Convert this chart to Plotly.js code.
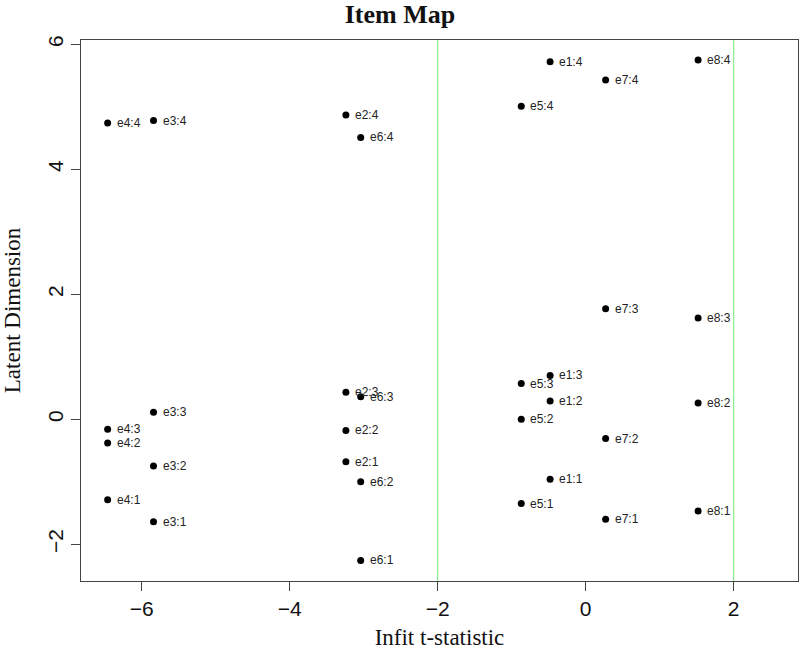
<!DOCTYPE html>
<html>
<head>
<meta charset="utf-8">
<script src="https://cdn.plot.ly/plotly-3.0.1.min.js"></script>
<style>
  body { margin: 0; background: #fff; }
  #plot { width: 800px; height: 650px; }
</style>
</head>
<body>
<div id="plot"></div>
<script>
// item thresholds (label = item:category)
var pointLabels = [
  "e1:1", "e1:2", "e1:3", "e1:4",
  "e2:1", "e2:2", "e2:3", "e2:4",
  "e3:1", "e3:2", "e3:3", "e3:4",
  "e4:1", "e4:2", "e4:3", "e4:4",
  "e5:1", "e5:2", "e5:3", "e5:4",
  "e6:1", "e6:2", "e6:3", "e6:4",
  "e7:1", "e7:2", "e7:3", "e7:4",
  "e8:1", "e8:2", "e8:3", "e8:4"
];
// infit t-statistic (same for every threshold of an item)
var infitT = [
  -0.48, -0.48, -0.48, -0.48,
  -3.24, -3.24, -3.24, -3.24,
  -5.84, -5.84, -5.84, -5.84,
  -6.46, -6.46, -6.46, -6.46,
  -0.87, -0.87, -0.87, -0.87,
  -3.04, -3.04, -3.04, -3.04,
  0.27, 0.27, 0.27, 0.27,
  1.52, 1.52, 1.52, 1.52
];
// latent dimension location
var latent = [
  -0.96, 0.29, 0.70, 5.72,
  -0.68, -0.18, 0.43, 4.87,
  -1.64, -0.75, 0.11, 4.78,
  -1.29, -0.38, -0.16, 4.74,
  -1.35, 0.00, 0.57, 5.01,
  -2.26, -1.00, 0.36, 4.51,
  -1.60, -0.31, 1.77, 5.43,
  -1.47, 0.26, 1.62, 5.75
];
var cutoffs = [-2, 2];

var trace = {
  x: infitT,
  y: latent,
  text: pointLabels,
  type: "scatter",
  mode: "markers",
  marker: { color: "black", size: 7 },
  hoverinfo: "x+y+text"
};

// labels to the right of each point, like text(pos = 4)
var annots = [];
for (var i = 0; i < pointLabels.length; i++) {
  annots.push({
    x: infitT[i], y: latent[i],
    xref: "x", yref: "y",
    text: pointLabels[i],
    showarrow: false,
    xanchor: "left", yanchor: "middle",
    xshift: 7, yshift: 0,
    font: { family: "Liberation Sans, Arial, sans-serif", size: 12, color: "#222" }
  });
}

var shapes = [];
for (var j = 0; j < cutoffs.length; j++) {
  shapes.push({
    type: "line",
    xref: "x", yref: "paper",
    x0: cutoffs[j], x1: cutoffs[j], y0: 0, y1: 1,
    line: { color: "#90ee90", width: 1.3 },
    layer: "below"
  });
}

var layout = {
  width: 800,
  height: 650,
  margin: { l: 81, r: 2, t: 40, b: 69 },
  paper_bgcolor: "white",
  plot_bgcolor: "white",
  showlegend: false,
  title: {
    text: "<b>Item Map</b>",
    font: { family: "Liberation Serif, Times New Roman, serif", size: 26, color: "#111" },
    x: 0.5, xanchor: "center",
    y: 0.979, yanchor: "middle"
  },
  xaxis: {
    range: [-6.82, 2.87],
    tickvals: [-6, -4, -2, 0, 2],
    ticktext: ["\u22126", "\u22124", "\u22122", "0", "2"],
    ticks: "outside", ticklen: 9, tickcolor: "#444", tickwidth: 1,
    showgrid: false, zeroline: false,
    showline: true, mirror: true, linecolor: "#444", linewidth: 1,
    tickfont: { family: "Liberation Sans, Arial, sans-serif", size: 21, color: "#111" },
    title: {
      text: "Infit t-statistic",
      font: { family: "Liberation Serif, Times New Roman, serif", size: 23, color: "#111" },
      standoff: 10
    }
  },
  yaxis: {
    range: [-2.59, 6.07],
    tickvals: [-2, 0, 2, 4, 6],
    ticktext: ["\u22122", "0", "2", "4", "6"],
    tickangle: -90,
    ticks: "outside", ticklen: 9, tickcolor: "#444", tickwidth: 1,
    showgrid: false, zeroline: false,
    showline: true, mirror: true, linecolor: "#444", linewidth: 1,
    tickfont: { family: "Liberation Sans, Arial, sans-serif", size: 21, color: "#111" },
    title: {
      text: "Latent Dimension",
      font: { family: "Liberation Serif, Times New Roman, serif", size: 23, color: "#111" },
      standoff: 17
    }
  },
  shapes: shapes,
  annotations: annots
};

Plotly.newPlot("plot", [trace], layout, { displayModeBar: false, staticPlot: true });
</script>
</body>
</html>
